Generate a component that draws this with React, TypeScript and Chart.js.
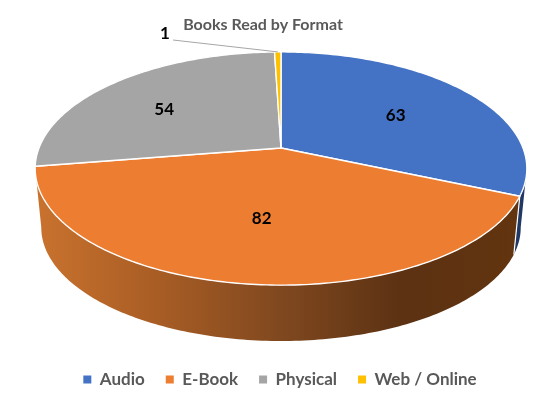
import { useEffect, useRef } from "react";
import { Chart, registerables } from "chart.js";

Chart.register(...registerables);

const formats = ["Audio", "E-Book", "Physical", "Web / Online"];
const booksRead = [63, 82, 54, 1];
const sliceColors = ["#4472C4", "#ED7D31", "#A5A5A5", "#FFC000"];

const FONT = "Lato, 'Open Sans', sans-serif";

// Perspective of the tilted disc, fitted by eye to the picture
const topDisc = { cx: 281, cy: 148, rx: 242, ry: 113 };
const bottomDisc = { cx: 281, cy: 207.5, rx: 236, ry: 110 };
const PERSPECTIVE = 0.176;
const WALL_FROM = (100 * Math.PI) / 180;
const WALL_TO = (260 * Math.PI) / 180;
// small shifts of the data labels from their slice anchor
const labelNudge = [
  [0, 3],
  [1, -5],
  [-12, 2],
  [0, 0],
];

type Disc = typeof topDisc;

// theta is measured clockwise from 12 o'clock, r is 0..1 of the radius
function project(disc: Disc, theta: number, r = 1) {
  const u = Math.sin(theta) * r;
  const v = -Math.cos(theta) * r;
  const s = 1 / (1 - PERSPECTIVE * v);
  return { x: disc.cx + disc.rx * u * s, y: disc.cy + disc.ry * v * s };
}

function traceRim(ctx: CanvasRenderingContext2D, disc: Disc, from: number, to: number) {
  const steps = Math.max(2, Math.ceil(Math.abs(to - from) * 60));
  for (let i = 0; i <= steps; i++) {
    const p = project(disc, from + ((to - from) * i) / steps);
    ctx.lineTo(p.x, p.y);
  }
}

const pie3d = {
  id: "pie3d",
  beforeDatasetDraw(chart: any) {
    const ctx: CanvasRenderingContext2D = chart.ctx;
    const arcs = chart.getDatasetMeta(0).data;
    const angles = arcs.map((a: any) => [a.startAngle + Math.PI / 2, a.endAngle + Math.PI / 2]);

    const orangeWall = ctx.createLinearGradient(37, 0, 515, 0);
    orangeWall.addColorStop(0, "#C9722E");
    orangeWall.addColorStop(0.24, "#AA5E25");
    orangeWall.addColorStop(0.51, "#80481F");
    orangeWall.addColorStop(0.76, "#5C3213");
    orangeWall.addColorStop(1, "#62340F");
    // only the first two slices show a side wall
    const wallFills: any[] = ["#203864", orangeWall, null, null];

    ctx.save();
    angles.forEach(([start, end]: number[], i: number) => {
      if (!wallFills[i]) return;
      const from = Math.max(start, WALL_FROM);
      const to = Math.min(end, WALL_TO);
      if (from >= to) return;
      ctx.beginPath();
      traceRim(ctx, topDisc, from, to);
      traceRim(ctx, bottomDisc, to, from);
      ctx.closePath();
      ctx.fillStyle = wallFills[i];
      ctx.fill();
      if (i > 0) {
        // thin gap left by the slice edge
        const a = project(topDisc, from);
        const b = project(bottomDisc, from);
        ctx.beginPath();
        ctx.moveTo(a.x, a.y);
        ctx.lineTo(b.x, b.y);
        ctx.strokeStyle = "#FFFFFF";
        ctx.lineWidth = 1.2;
        ctx.stroke();
      }
    });

    // top face
    angles.forEach(([start, end]: number[], i: number) => {
      ctx.beginPath();
      ctx.moveTo(topDisc.cx, topDisc.cy);
      traceRim(ctx, topDisc, start, end);
      ctx.closePath();
      ctx.fillStyle = sliceColors[i];
      ctx.fill();
      ctx.strokeStyle = "#FFFFFF";
      ctx.lineWidth = 1.4;
      ctx.lineJoin = "round";
      ctx.stroke();
    });

    // data labels
    ctx.font = `bold 17px ${FONT}`;
    ctx.fillStyle = "#000000";
    ctx.textAlign = "center";
    ctx.textBaseline = "middle";
    angles.forEach(([start, end]: number[], i: number) => {
      const mid = (start + end) / 2;
      if (booksRead[i] < 5) {
        const tip = project(topDisc, mid);
        ctx.fillText(String(booksRead[i]), 165, 34);
        ctx.beginPath();
        ctx.moveTo(173, 40);
        ctx.lineTo(tip.x, tip.y);
        ctx.strokeStyle = "#A6A6A6";
        ctx.lineWidth = 1;
        ctx.stroke();
      } else {
        const p = project(topDisc, mid, 0.6);
        ctx.fillText(String(booksRead[i]), p.x + labelNudge[i][0], p.y + labelNudge[i][1]);
      }
    });
    ctx.restore();
    return false;
  },
  afterLayout(chart: any) {
    // the title sits left of the centre in the reference
    chart.titleBlock.left -= 34;
  },
};

function App() {
  const chartRef = useRef<HTMLCanvasElement | null>(null);

  useEffect(() => {
    if (!chartRef.current) return;

    const chart = new Chart(chartRef.current, {
      type: "pie",
      data: {
        labels: formats,
        datasets: [{ data: booksRead, backgroundColor: sliceColors, borderWidth: 0 }],
      },
      plugins: [pie3d],
      options: {
        responsive: false,
        animation: false,
        layout: { padding: { left: 4, bottom: 17 } },
        plugins: {
          title: {
            display: true,
            text: "Books Read by Format",
            color: "#595959",
            font: { family: FONT, size: 16, weight: "bold" },
            padding: { top: 15, bottom: 4 },
          },
          legend: {
            position: "bottom",
            labels: {
              usePointStyle: true,
              pointStyle: "rect",
              boxWidth: 8,
              boxHeight: 8,
              padding: 21,
              color: "#595959",
              font: { family: FONT, size: 17, weight: "bold" },
            },
          },
          tooltip: { enabled: false },
        },
      },
    });

    return () => chart.destroy();
  }, []);

  return (
    <div style={{ position: "fixed", left: 0, top: 0, background: "#FFFFFF" }}>
      <canvas ref={chartRef} width={556} height={415} style={{ display: "block" }} />
    </div>
  );
}

export default App;
